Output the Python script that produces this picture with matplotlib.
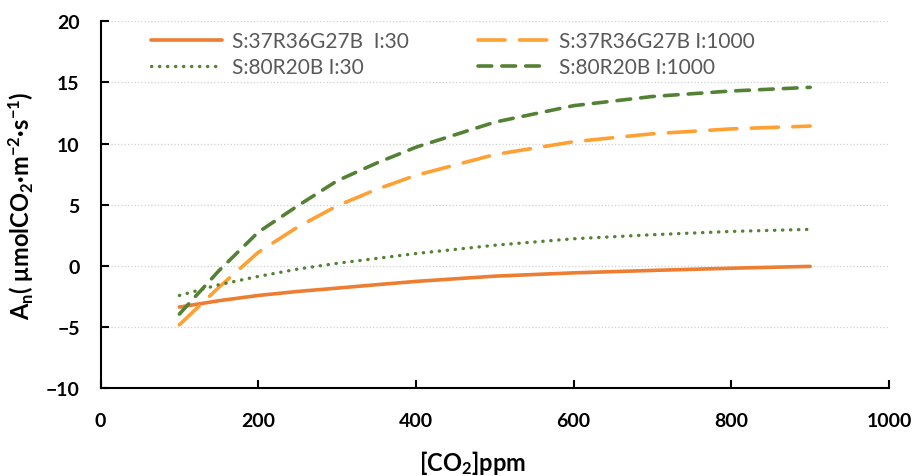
import matplotlib
matplotlib.use("Agg")
import matplotlib.pyplot as plt

# CO2 concentration (ppm)
co2 = [100, 150, 200, 250, 300, 350, 400, 500, 600, 700, 800, 900]

# net photosynthesis for the four spectrum / intensity treatments
a_37_30 = [-3.38, -2.86, -2.43, -2.1, -1.83, -1.55, -1.28, -0.85, -0.58, -0.38, -0.2, -0.05]
a_37_1000 = [-4.83, -1.77, 1.1, 3.17, 4.9, 6.25, 7.4, 9.1, 10.15, 10.8, 11.2, 11.43]
a_80_30 = [-2.43, -1.55, -0.87, -0.27, 0.2, 0.6, 1.0, 1.68, 2.21, 2.54, 2.81, 2.98]
a_80_1000 = [-3.95, -0.41, 2.75, 4.9, 6.95, 8.4, 9.7, 11.75, 13.1, 13.85, 14.3, 14.6]

labels = ["S:37R36G27B  I:30", "S:37R36G27B I:1000", "S:80R20B I:30", "S:80R20B I:1000"]

plt.rcParams['font.family'] = ['Lato', 'DejaVu Sans']
plt.rcParams['mathtext.fontset'] = 'custom'
plt.rcParams['mathtext.bf'] = 'Lato:bold'
plt.rcParams['mathtext.rm'] = 'Lato:bold'
plt.rcParams['mathtext.default'] = 'bf'

fig = plt.figure(figsize=(9.14, 4.77), dpi=100)
ax = fig.add_axes([0.11, 0.1845, 0.8627, 0.7687])

lw = 2.6
l1, = ax.plot(co2, a_37_30, color='#ED7D31', lw=lw, solid_capstyle='round')
l2, = ax.plot(co2, a_37_1000, color='#FFA033', lw=lw, dashes=(7.5, 4), dash_capstyle='round')
l3, = ax.plot(co2, a_80_30, color='#548235', lw=2.4, dashes=(0.1, 2.3), dash_capstyle='round')
l4, = ax.plot(co2, a_80_1000, color='#548235', lw=lw, dashes=(3.8, 2.8), dash_capstyle='round')

ax.set_xlim(0, 1000)
ax.set_ylim(-10, 20)
ax.set_xticks(range(0, 1001, 200))
ax.set_yticks(range(-10, 21, 5))
ax.yaxis.grid(True, color='#d0d0d0', linestyle=':', linewidth=0.9)
ax.set_axisbelow(True)

for s in ['top', 'right']:
    ax.spines[s].set_visible(False)
for s in ['left', 'bottom']:
    ax.spines[s].set_linewidth(1.5)
    ax.spines[s].set_color('black')

ax.tick_params(axis='both', direction='in', length=6, width=1.5, labelsize=14)
ax.tick_params(axis='y', pad=15)
ax.tick_params(axis='x', pad=17)
for t in ax.get_xticklabels() + ax.get_yticklabels():
    t.set_fontweight('bold')

ax.set_xlabel(r'[CO$_2$]ppm', fontsize=17, fontweight='bold')
ax.xaxis.set_label_coords(0.472, -0.165)
ax.set_ylabel(r'A$_n$( μmolCO$_2$·m$^{-2}$·s$^{-1}$)', fontsize=17, fontweight='bold')
ax.yaxis.set_label_coords(-0.082, 0.5)

leg = ax.legend([l1, l3, l2, l4], [labels[0], labels[2], labels[1], labels[3]],
                ncol=2, frameon=False, fontsize=15, handlelength=3.4,
                handletextpad=0.5, columnspacing=3.3, labelspacing=0.3,
                loc='upper left', bbox_to_anchor=(0.04, 1.025))
for t in leg.get_texts():
    t.set_color('#595959')

fig.savefig('out.png', dpi=100)
